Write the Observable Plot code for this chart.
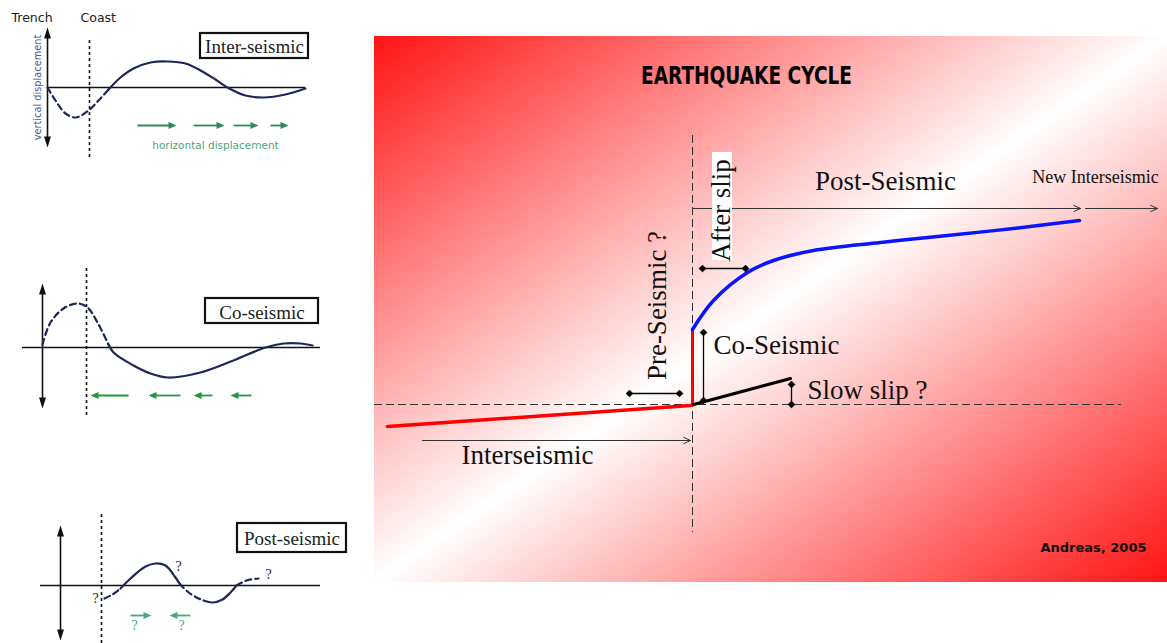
<!DOCTYPE html>
<html>
<head>
<meta charset="utf-8">
<script src="https://cdn.jsdelivr.net/npm/d3@7"></script>
<script src="https://cdn.jsdelivr.net/npm/@observablehq/plot@0.6"></script>
<style>
  html, body { margin: 0; padding: 0; background: #fff; }
  #chart svg { display: block; }
</style>
</head>
<body>
<div id="chart"></div>
<script>
// ---------------- DATA (figure units) ----------------
// Main panel: earthquake cycle
const cycleTitle = ["EARTHQUAKE CYCLE"];
const panelFrame = [{x1: 374, x2: 1167, y1: 36, y2: 582}];
const interseismicTrend = [{x: 387, y: 426}, {x: 690, y: 405}];
const coseismicJump = [{x: 692, y: 405}, {x: 692, y: 329}];
const postseismicCurve = [
  {x: 692, y: 329}, {x: 713, y: 300}, {x: 747, y: 272}, {x: 773, y: 260},
  {x: 813, y: 250}, {x: 880, y: 242}, {x: 947, y: 235}, {x: 1013, y: 228}, {x: 1079, y: 220}
];
const slowSlipTrend = [{x: 693, y: 404}, {x: 790, y: 378}];
const baselineGuide = [{x1: 374, x2: 1121, y: 404}];
const eventGuide = [{x: 692, y1: 135, y2: 532}];
const phaseArrows = [
  {x1: 422, y1: 440, x2: 690, y2: 440},
  {x1: 692, y1: 208, x2: 1080, y2: 208},
  {x1: 1085, y1: 208, x2: 1157, y2: 208}
];
const brackets = [
  {x1: 629, y1: 393, x2: 679, y2: 393},
  {x1: 702, y1: 268, x2: 745, y2: 268},
  {x1: 703, y1: 332, x2: 703, y2: 400},
  {x1: 791, y1: 384, x2: 791, y2: 404}
];
const afterSlipBox = [{x1: 712, x2: 732, y1: 152, y2: 260}];
const phaseLabels = [
  {text: "Post-Seismic", x: 885, y: 189, size: "big", anchor: "middle"},
  {text: "New Interseismic", x: 1095, y: 182, size: "small", anchor: "middle"},
  {text: "Co-Seismic", x: 713, y: 353, size: "big", anchor: "start"},
  {text: "Slow slip ?", x: 807, y: 398, size: "big", anchor: "start"},
  {text: "Interseismic", x: 461, y: 463, size: "big", anchor: "start"}
];
const rotatedLabels = [
  {text: "After slip", x: 729, y: 210},
  {text: "Pre-Seismic ?", x: 665, y: 305}
];
const creditLabel = [{text: "Andreas, 2005", x: 1146, y: 551}];

// Left panels: sketches of vertical displacement
const panelAxes = [
  {x1: 47, x2: 305, y: 87},
  {x1: 22, x2: 320, y: 347},
  {x1: 40, x2: 320, y: 585}
];
const coastGuides = [
  {x: 89, y1: 40, y2: 160},
  {x: 86, y1: 268, y2: 415},
  {x: 101, y1: 514, y2: 643}
];
const verticalArrows = [
  {x: 47, y1: 27, y2: 147},
  {x: 42, y1: 283, y2: 408},
  {x: 60, y1: 525, y2: 640}
];
const stageBoxes = [
  {text: "Inter-seismic", x1: 200, x2: 308, y1: 33, y2: 58, y: 52},
  {text: "Co-seismic", x1: 205, x2: 318, y1: 298, y2: 323, y: 318},
  {text: "Post-seismic", x1: 237, x2: 346, y1: 523, y2: 552, y: 544}
];
// profile segments (dashed = uncertain)
const profileSegments = [
  {dashed: true, points: [[47, 87], [55, 100], [65, 113], [75, 117], [88, 110], [98, 100], [108, 89]]},
  {dashed: false, points: [[108, 89], [120, 77], [133, 68], [150, 62], [167, 61], [185, 63], [200, 70], [215, 79], [227, 87], [245, 95], [263, 97], [285, 94], [305, 88]]},
  {dashed: true, points: [[42, 344], [50, 322], [63, 308], [77, 303], [87, 307], [97, 322], [108, 344]]},
  {dashed: false, points: [[108, 344], [113, 352], [133, 365], [150, 373], [167, 377], [200, 372], [233, 360], [265, 347], [283, 343], [300, 343], [312, 345]]},
  {dashed: true, points: [[104, 598], [112, 594], [120, 588]]},
  {dashed: false, points: [[120, 588], [130, 578], [145, 566], [155, 563], [165, 565], [175, 577], [179, 583]]},
  {dashed: true, points: [[179, 583], [187, 591], [196, 597], [203, 600]]},
  {dashed: false, points: [[203, 600], [212, 602], [222, 599], [230, 592], [236, 585]]},
  {dashed: true, points: [[236, 585], [246, 580], [258, 578]]}
];
const sketchLabels = [
  {text: "Trench", x: 11, y: 21},
  {text: "Coast", x: 80, y: 21}
];
const verticalAxisLabel = [{text: "vertical displacement", x: 40, y: 87}];
const horizontalAxisLabel = [{text: "horizontal displacement", x: 215, y: 148}];
const greenArrows = [
  {x1: 137, x2: 176, y: 125, panel: 1}, {x1: 193, x2: 224, y: 125, panel: 1},
  {x1: 233, x2: 258, y: 125, panel: 1}, {x1: 270, x2: 288, y: 125, panel: 1},
  {x1: 128, x2: 90, y: 395, panel: 2}, {x1: 180, x2: 148, y: 395, panel: 2},
  {x1: 212, x2: 193, y: 395, panel: 2}, {x1: 251, x2: 230, y: 395, panel: 2},
  {x1: 130, x2: 151, y: 615, panel: 3}, {x1: 190, x2: 169, y: 615, panel: 3}
];
const questionMarks = [
  {text: "?", x: 95, y: 602}, {text: "?", x: 178, y: 570}, {text: "?", x: 268, y: 578}
];
const greenQuestionMarks = [
  {text: "?", x: 134, y: 629}, {text: "?", x: 181, y: 629}
];

// ---------------- DERIVED TABLES ----------------
const bracketEnds = brackets.flatMap(d => [{x: d.x1, y: d.y1}, {x: d.x2, y: d.y2}]);
const profilePoints = profileSegments.flatMap((s, i) =>
  s.points.map(([x, y]) => ({x, y, seg: i, dashed: s.dashed})));
const verticalHeads = verticalArrows.flatMap(d => [
  {x: d.x, y: d.y1, rotate: 0}, {x: d.x, y: d.y2, rotate: 180}
]);
const greenHeads = greenArrows.map(d => ({x: d.x2, y: d.y, rotate: d.x2 > d.x1 ? 90 : -90, panel: d.panel}));
const greenColor = p => p === 1 ? "#2f8a58" : p === 2 ? "#23973f" : "#4aa97a";

const serif = "'Liberation Serif', 'Times New Roman', serif";
const sans = "'DejaVu Sans', sans-serif";
const navy = "#1d2758";

const plot = Plot.plot({
  width: 1167,
  height: 643,
  margin: 0,
  x: {domain: [0, 1167], range: [0, 1167], axis: null},
  y: {domain: [0, 643], range: [0, 643], axis: null},
  style: {background: "white", overflow: "visible"},
  marks: [
    // background panel with red-white-red diagonal gradient
    Plot.rect(panelFrame, {x1: "x1", x2: "x2", y1: "y1", y2: "y2", fill: "url(#eqGrad)"}),
    // guides
    Plot.ruleY(baselineGuide, {x1: "x1", x2: "x2", y: "y", stroke: "#333", strokeWidth: 1, strokeDasharray: "8,4"}),
    Plot.ruleX(eventGuide, {x: "x", y1: "y1", y2: "y2", stroke: "#333", strokeWidth: 1, strokeDasharray: "8,4"}),
    Plot.arrow(phaseArrows, {x1: "x1", y1: "y1", x2: "x2", y2: "y2", stroke: "#333", strokeWidth: 1, headLength: 11, headAngle: 50}),
    Plot.rect(afterSlipBox, {x1: "x1", x2: "x2", y1: "y1", y2: "y2", fill: "white"}),
    // brackets
    Plot.link(brackets, {x1: "x1", y1: "y1", x2: "x2", y2: "y2", stroke: "black", strokeWidth: 1.3}),
    // main curves
    Plot.line(interseismicTrend, {x: "x", y: "y", stroke: "#ff0000", strokeWidth: 3.5}),
    Plot.line(coseismicJump, {x: "x", y: "y", stroke: "#ff0000", strokeWidth: 3}),
    Plot.line(postseismicCurve, {x: "x", y: "y", stroke: "#0a14ff", strokeWidth: 3.5, curve: "catmull-rom"}),
    Plot.line(slowSlipTrend, {x: "x", y: "y", stroke: "black", strokeWidth: 3}),
    Plot.dot(bracketEnds, {x: "x", y: "y", r: 3, fill: "black", symbol: "diamond2", stroke: "black", strokeWidth: 1}),
    // main texts
    Plot.text(cycleTitle, {x: () => 746, y: () => 83, text: d => d, fontFamily: "'DejaVu Sans Condensed', 'DejaVu Sans', sans-serif", fontWeight: 900, fontSize: 25, fill: "black", lineAnchor: "bottom"}),
    Plot.text(phaseLabels.filter(d => d.anchor === "middle"), {x: "x", y: "y", text: "text", textAnchor: "middle", fontFamily: serif, fontSize: d => d.size === "big" ? 27 : 18, fill: "#111", lineAnchor: "bottom"}),
    Plot.text(phaseLabels.filter(d => d.anchor === "start"), {x: "x", y: "y", text: "text", textAnchor: "start", fontFamily: serif, fontSize: d => d.size === "big" ? 27 : 18, fill: "#111", lineAnchor: "bottom"}),
    Plot.text(rotatedLabels, {x: "x", y: "y", text: "text", rotate: -90, fontFamily: serif, fontSize: 27, fill: "#111", lineAnchor: "bottom"}),
    Plot.text(creditLabel, {x: "x", y: "y", text: "text", textAnchor: "end", fontFamily: sans, fontWeight: "bold", fontSize: 13, fill: "#111", lineAnchor: "bottom"}),

    // ---- left sketches ----
    Plot.ruleY(panelAxes, {x1: "x1", x2: "x2", y: "y", stroke: "#111", strokeWidth: 1.4}),
    Plot.ruleX(coastGuides, {x: "x", y1: "y1", y2: "y2", stroke: "#111", strokeWidth: 1.6, strokeDasharray: "3,3"}),
    Plot.ruleX(verticalArrows, {x: "x", y1: d => d.y1 + 6, y2: d => d.y2 - 6, stroke: "#111", strokeWidth: 1.6}),
    Plot.vector(verticalHeads, {x: "x", y: "y", rotate: "rotate", length: 11, r: 3.5, shape: "spike", anchor: "end", fill: "#111", stroke: "none"}),
    Plot.line(profilePoints.filter(d => d.dashed), {x: "x", y: "y", z: "seg", stroke: navy, strokeWidth: 2.2, strokeDasharray: "6,4", curve: "catmull-rom"}),
    Plot.line(profilePoints.filter(d => !d.dashed), {x: "x", y: "y", z: "seg", stroke: navy, strokeWidth: 2.2, curve: "catmull-rom"}),
    Plot.rect(stageBoxes, {x1: "x1", x2: "x2", y1: "y1", y2: "y2", fill: "white", stroke: "#111", strokeWidth: 2.2}),
    Plot.text(stageBoxes, {x: d => (d.x1 + d.x2) / 2, y: "y", text: "text", fontFamily: serif, fontSize: 19, fill: "#222", lineAnchor: "bottom"}),
    Plot.link(greenArrows, {x1: "x1", x2: d => d.x2 - Math.sign(d.x2 - d.x1) * 6, y1: "y", y2: "y", stroke: d => greenColor(d.panel), strokeWidth: 1.8}),
    Plot.vector(greenHeads, {x: "x", y: "y", rotate: "rotate", length: 8, r: 3.5, shape: "spike", anchor: "end", fill: d => greenColor(d.panel), stroke: "none"}),
    Plot.text(sketchLabels, {x: "x", y: "y", text: "text", textAnchor: "start", fontFamily: sans, fontSize: 12.5, fill: "#222", lineAnchor: "bottom"}),
    Plot.text(verticalAxisLabel, {x: "x", y: "y", text: "text", rotate: -90, fontFamily: sans, fontSize: 9.8, fill: "#4a5888", lineAnchor: "bottom"}),
    Plot.text(horizontalAxisLabel, {x: "x", y: "y", text: "text", fontFamily: sans, fontSize: 10.5, fill: "#4fa57a", lineAnchor: "bottom"}),
    Plot.text(questionMarks, {x: "x", y: "y", text: "text", fontFamily: serif, fontSize: 14, fill: "#222", lineAnchor: "bottom"}),
    Plot.text(greenQuestionMarks, {x: "x", y: "y", text: "text", fontFamily: serif, fontSize: 14, fill: "#4aa97a", lineAnchor: "bottom"})
  ]
});

// gradient definition for the panel background
const ns = "http://www.w3.org/2000/svg";
const defs = document.createElementNS(ns, "defs");
const grad = document.createElementNS(ns, "linearGradient");
grad.setAttribute("id", "eqGrad");
grad.setAttribute("x1", "0"); grad.setAttribute("y1", "0");
grad.setAttribute("x2", "1"); grad.setAttribute("y2", "1");
[["0", "#ff1414"], ["0.5", "#ffffff"], ["1", "#ff1414"]].forEach(([o, c]) => {
  const s = document.createElementNS(ns, "stop");
  s.setAttribute("offset", o); s.setAttribute("stop-color", c);
  grad.appendChild(s);
});
defs.appendChild(grad);
plot.insertBefore(defs, plot.firstChild);

// fit the condensed title to its printed width
[...plot.querySelectorAll("text")].forEach(t => {
  if (t.textContent === cycleTitle[0]) {
    t.setAttribute("textLength", 211);
    t.setAttribute("lengthAdjust", "spacingAndGlyphs");
  }
});

document.getElementById("chart").appendChild(plot);
</script>
</body>
</html>
